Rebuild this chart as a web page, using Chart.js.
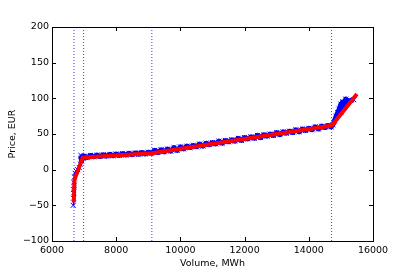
<!DOCTYPE html>
<html>
<head>
<meta charset="utf-8">
<script src="https://cdn.jsdelivr.net/npm/chart.js@4.4.0/dist/chart.umd.min.js"></script>
<style>
  body { margin: 0; background: #fff; }
  canvas { display: block; }
</style>
</head>
<body>
<canvas id="myChart" width="415" height="277"></canvas>
<script>
// bid curve (blue crosses)
const bidVolume = [6660, 6670, 6680, 6670, 6690, 6680, 6700, 6720, 6750, 6800, 6850, 6880, 6900, 6920, 6950, 6980,
    7000, 7100, 7200, 7300, 7400, 7500, 7600, 7700, 7800, 7900, 8000, 8100, 8200, 8300, 8400, 8500, 8600, 8700, 8800, 8900, 9000, 9100,
    9200, 9300, 9400, 9500, 9600, 9700, 9800, 9900, 10000, 10100, 10200, 10300, 10400, 10500, 10600, 10700, 10800, 10900,
    11000, 11100, 11200, 11300, 11400, 11500, 11600, 11700, 11800, 11900, 12000, 12100, 12200, 12300, 12400, 12500, 12600,
    12700, 12800, 12900, 13000, 13100, 13200, 13300, 13400, 13500, 13600, 13700, 13800, 13900, 14000, 14100, 14200, 14300,
    14400, 14500, 14600, 14700, 14750, 14800, 14850, 14900, 14950, 15000, 15000, 15050, 15100, 15150, 15200, 15300, 15400];
const bidPrice = [-50, -40, -32, -28, -22, -18, -10, -5, -2, 0, 3, 8, 20, 12, 18, 16,
    19, 17, 20, 18, 20.5, 18.5, 21, 19, 21.5, 19.5, 22, 20, 22.5, 20.5, 23, 21, 23.5, 21.5, 24, 22, 24.5, 23,
    27, 24, 28, 25, 29, 26, 31, 27, 32, 29, 33, 31, 34, 32, 36, 33, 37, 35,
    38, 36, 40, 37, 41, 39, 42, 40, 44, 41, 45, 43, 46, 44, 48, 45, 49,
    47, 50, 48, 52, 49, 53, 51, 54, 52, 56, 53, 57, 55, 58, 56, 60, 57,
    61, 59, 62, 60, 63, 68, 75, 80, 85, 92, 80, 95, 88, 99, 93, 97, 98];

// piecewise fit (red)
const fitVolume = [6680, 6700, 6960, 9100, 14720, 15500];
const fitPrice = [-46, -14, 17, 23, 62, 106];

// breakpoints (dotted verticals)
const vLines = [6685, 6985, 9110, 14710];

const xTicks = [6000, 8000, 10000, 12000, 14000, 16000];
const yTicks = [-100, -50, 0, 50, 100, 150, 200];

const font = { family: 'DejaVu Sans', size: 9.5 };

function minus(v) {
    return v < 0 ? '\u2212' + Math.abs(v) : String(v);
}

const frame = {
    id: 'frame',
    afterDraw(chart) {
        const ctx = chart.ctx;
        const a = chart.chartArea;
        const xs = chart.scales.x, ys = chart.scales.y;
        ctx.save();
        ctx.strokeStyle = '#000';
        ctx.lineWidth = 1;
        ctx.beginPath();
        xTicks.forEach(function(t) {
            const px = Math.round(xs.getPixelForValue(t)) + 0.5;
            ctx.moveTo(px, a.bottom); ctx.lineTo(px, a.bottom - 4);
            ctx.moveTo(px, a.top); ctx.lineTo(px, a.top + 4);
        });
        yTicks.forEach(function(t) {
            const py = Math.round(ys.getPixelForValue(t)) + 0.5;
            ctx.moveTo(a.left, py); ctx.lineTo(a.left + 4, py);
            ctx.moveTo(a.right, py); ctx.lineTo(a.right - 4, py);
        });
        ctx.stroke();
        ctx.strokeRect(Math.round(a.left) + 0.5, Math.round(a.top) + 0.5,
            Math.round(a.right - a.left), Math.round(a.bottom - a.top));
        ctx.restore();
    }
};

const datasets = [];
datasets.push({
    data: fitVolume.map(function(v, i) { return { x: v, y: fitPrice[i] }; }),
    showLine: true,
    borderColor: 'rgb(255,0,0)',
    borderWidth: 4,
    borderJoinStyle: 'round',
    pointRadius: 0,
    order: 0
});
datasets.push({
    data: bidVolume.map(function(v, i) { return { x: v, y: bidPrice[i] }; }),
    showLine: true,
    borderColor: 'rgb(0,0,255)',
    borderWidth: 5,
    borderJoinStyle: 'round',
    segment: {
        // the steep start is sparse: thin line there
        borderWidth: function(c) { return c.p0.parsed.y < 10 ? 1.5 : 5; }
    },
    pointStyle: 'crossRot',
    pointRadius: 3.5,
    pointBorderColor: 'rgb(0,0,255)',
    pointBorderWidth: 1,
    order: 1
});
vLines.forEach(function(v) {
    datasets.push({
        data: [{ x: v, y: -100 }, { x: v, y: 200 }],
        showLine: true,
        borderColor: 'rgb(60,60,255)',
        borderWidth: 1,
        borderDash: [1, 2],
        pointRadius: 0,
        order: 2
    });
});

const myChart = new Chart(document.getElementById('myChart'), {
    type: 'scatter',
    data: { datasets: datasets },
    options: {
        responsive: false,
        animation: false,
        devicePixelRatio: 1,
        layout: { padding: { top: 27, right: 42, bottom: 0, left: 0 } },
        plugins: { legend: { display: false }, tooltip: { enabled: false } },
        scales: {
            x: {
                type: 'linear',
                min: 6000, max: 16000,
                afterBuildTicks: function(s) { s.ticks = xTicks.map(function(v) { return { value: v }; }); },
                afterFit: function(s) { s.height = 36; },
                grid: { display: false, drawTicks: false, tickLength: 0 },
                border: { display: false },
                ticks: { color: '#000', font: font, padding: 4, maxRotation: 0, autoSkip: false, callback: minus },
                title: { display: true, text: 'Volume, MWh', color: '#000', font: font, padding: { top: 0, bottom: 8 } }
            },
            y: {
                type: 'linear',
                min: -100, max: 200,
                afterBuildTicks: function(s) { s.ticks = yTicks.map(function(v) { return { value: v }; }); },
                afterFit: function(s) { s.width = 52; },
                grid: { display: false, drawTicks: false, tickLength: 0 },
                border: { display: false },
                ticks: { color: '#000', font: font, padding: 3, autoSkip: false, callback: minus },
                title: { display: true, text: 'Price, EUR', color: '#000', font: font, padding: { top: 7, bottom: 0 } }
            }
        }
    },
    plugins: [frame]
});
</script>
</body>
</html>
